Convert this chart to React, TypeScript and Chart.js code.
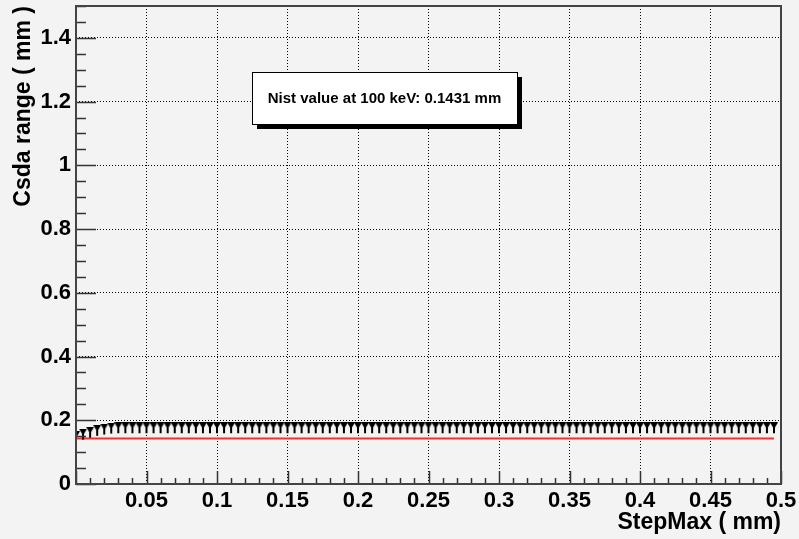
import React, { useEffect, useRef } from "react";
import { Chart, registerables } from "chart.js";

Chart.register(...registerables);

// StepMax values (mm) and the CSDA range obtained for each one (mm)
const STEP_MAX: number[] = [
  0.0, 0.005, 0.01, 0.015, 0.02, 0.025, 0.03, 0.035, 0.04, 0.045,
  0.05, 0.055, 0.06, 0.065, 0.07, 0.075, 0.08, 0.085, 0.09, 0.095,
  0.1, 0.105, 0.11, 0.115, 0.12, 0.125, 0.13, 0.135, 0.14, 0.145,
  0.15, 0.155, 0.16, 0.165, 0.17, 0.175, 0.18, 0.185, 0.19, 0.195,
  0.2, 0.205, 0.21, 0.215, 0.22, 0.225, 0.23, 0.235, 0.24, 0.245,
  0.25, 0.255, 0.26, 0.265, 0.27, 0.275, 0.28, 0.285, 0.29, 0.295,
  0.3, 0.305, 0.31, 0.315, 0.32, 0.325, 0.33, 0.335, 0.34, 0.345,
  0.35, 0.355, 0.36, 0.365, 0.37, 0.375, 0.38, 0.385, 0.39, 0.395,
  0.4, 0.405, 0.41, 0.415, 0.42, 0.425, 0.43, 0.435, 0.44, 0.445,
  0.45, 0.455, 0.46, 0.465, 0.47, 0.475, 0.48, 0.485, 0.49, 0.495,
];

const CSDA_RANGE: number[] = [
  0.147, 0.155, 0.161, 0.167, 0.171, 0.174, 0.175, 0.175, 0.175, 0.175,
  0.175, 0.175, 0.175, 0.175, 0.175, 0.175, 0.175, 0.175, 0.175, 0.175,
  0.175, 0.175, 0.175, 0.175, 0.175, 0.175, 0.175, 0.175, 0.175, 0.175,
  0.175, 0.175, 0.175, 0.175, 0.175, 0.175, 0.175, 0.175, 0.175, 0.175,
  0.175, 0.175, 0.175, 0.175, 0.175, 0.175, 0.175, 0.175, 0.175, 0.175,
  0.175, 0.175, 0.175, 0.175, 0.175, 0.175, 0.175, 0.175, 0.175, 0.175,
  0.175, 0.175, 0.175, 0.175, 0.175, 0.175, 0.175, 0.175, 0.175, 0.175,
  0.175, 0.175, 0.175, 0.175, 0.175, 0.175, 0.175, 0.175, 0.175, 0.175,
  0.175, 0.175, 0.175, 0.175, 0.175, 0.175, 0.175, 0.175, 0.175, 0.175,
  0.175, 0.175, 0.175, 0.175, 0.175, 0.175, 0.175, 0.175, 0.175, 0.175,
];

// Reference value from NIST at 100 keV (mm)
const NIST_VALUE = 0.1431;
const NIST_LABEL = "Nist value at 100 keV: 0.1431 mm";

// Axis ticks
const X_TICKS: number[] = [0, 0.05, 0.1, 0.15, 0.2, 0.25, 0.3, 0.35, 0.4, 0.45, 0.5];
const Y_TICKS: number[] = [0, 0.2, 0.4, 0.6, 0.8, 1.0, 1.2, 1.4];
const X_MINOR_STEP = 0.01;
const Y_MINOR_STEP = 0.05;
const X_MIN = 0, X_MAX = 0.5, Y_MIN = 0, Y_MAX = 1.5;

const FONT = "'Liberation Sans', Arial, Helvetica, sans-serif";
const BG = "#f3f3f3";

const fmt = (v: number) => String(Number(v.toFixed(3)));

// Down-pointing triangle marker with a short stem below it
function makeMarker(): HTMLCanvasElement {
  const c = document.createElement("canvas");
  c.width = 8;
  c.height = 12;
  const g = c.getContext("2d")!;
  g.fillStyle = "#000";
  g.beginPath();
  g.moveTo(0, 0);
  g.lineTo(8, 0);
  g.lineTo(4, 7);
  g.closePath();
  g.fill();
  g.fillRect(3, 4, 2, 7);
  return c;
}

// Canvas background, inner tick marks, frame and the text box
const rootStylePlugin = {
  id: "rootStyle",
  beforeDraw(chart: any) {
    const { ctx, width, height } = chart;
    ctx.save();
    ctx.fillStyle = BG;
    ctx.fillRect(0, 0, width, height);
    ctx.restore();
  },
  afterDraw(chart: any) {
    const { ctx } = chart;
    const { left, right, top, bottom } = chart.chartArea;
    const xs = chart.scales.x;
    const ys = chart.scales.y;
    ctx.save();

    // tick marks pointing into the frame
    ctx.strokeStyle = "#333";
    ctx.lineWidth = 1.5;
    const nx = Math.round((X_MAX - X_MIN) / X_MINOR_STEP);
    for (let i = 0; i <= nx; i++) {
      const v = X_MIN + i * X_MINOR_STEP;
      const px = Math.round(xs.getPixelForValue(v)) + 0.5;
      const len = i % 5 === 0 ? 13 : 6;
      ctx.beginPath();
      ctx.moveTo(px, bottom);
      ctx.lineTo(px, bottom - len);
      ctx.stroke();
    }
    const ny = Math.round((Y_MAX - Y_MIN) / Y_MINOR_STEP);
    for (let i = 0; i <= ny; i++) {
      const v = Y_MIN + i * Y_MINOR_STEP;
      const py = Math.round(ys.getPixelForValue(v)) + 0.5;
      const len = i % 4 === 0 ? 20 : 10;
      ctx.beginPath();
      ctx.moveTo(left, py);
      ctx.lineTo(left + len, py);
      ctx.stroke();
    }

    // frame
    ctx.strokeStyle = "#444";
    ctx.lineWidth = 2;
    ctx.strokeRect(left, top, right - left, bottom - top);

    // text box with drop shadow
    const bx0 = Math.round(xs.getPixelForValue(0.125));
    const bx1 = Math.round(xs.getPixelForValue(0.3125));
    const by0 = Math.round(ys.getPixelForValue(1.2925));
    const by1 = Math.round(ys.getPixelForValue(1.13));
    const bw = bx1 - bx0;
    const bh = by1 - by0;
    ctx.fillStyle = "#000";
    ctx.fillRect(bx0 + 5, by0 + 5, bw, bh);
    ctx.fillStyle = "#fff";
    ctx.fillRect(bx0, by0, bw, bh);
    ctx.strokeStyle = "#000";
    ctx.lineWidth = 1;
    ctx.strokeRect(bx0 + 0.5, by0 + 0.5, bw, bh);
    ctx.fillStyle = "#000";
    ctx.font = `bold 15px ${FONT}`;
    ctx.textAlign = "center";
    ctx.textBaseline = "middle";
    ctx.fillText(NIST_LABEL, bx0 + bw / 2, by0 + bh / 2 + 1);

    ctx.restore();
  },
};

export default function App() {
  const canvasRef = useRef<HTMLCanvasElement | null>(null);

  useEffect(() => {
    const canvas = canvasRef.current;
    if (!canvas) return;

    const points = STEP_MAX.map((x, i) => ({ x, y: CSDA_RANGE[i] }));
    const nistLine = [
      { x: STEP_MAX[0], y: NIST_VALUE },
      { x: STEP_MAX[STEP_MAX.length - 1], y: NIST_VALUE },
    ];
    const marker = makeMarker();

    const chart = new Chart(canvas, {
      type: "scatter",
      data: {
        datasets: [
          {
            type: "line",
            label: "NIST",
            data: nistLine,
            borderColor: "#ff2a2a",
            borderWidth: 2,
            pointRadius: 0,
            showLine: true,
            order: 2,
          } as any,
          {
            label: "Csda range",
            data: points,
            showLine: false,
            pointStyle: marker,
            pointRadius: 5,
            backgroundColor: "#000",
            borderColor: "#000",
            order: 1,
          } as any,
        ],
      },
      options: {
        responsive: false,
        animation: false,
        events: [],
        layout: { padding: { top: 4, right: 18, left: 0, bottom: 0 } },
        plugins: {
          legend: { display: false },
          tooltip: { enabled: false },
        },
        scales: {
          x: {
            type: "linear",
            min: X_MIN,
            max: X_MAX,
            afterBuildTicks: (scale: any) => {
              scale.ticks = X_TICKS.map((value) => ({ value }));
            },
            afterFit: (scale: any) => {
              scale.height = 55;
              scale.paddingLeft = 0;
              scale.paddingRight = 0;
            },
            grid: { color: "#000", lineWidth: 1, drawTicks: false },
            border: { display: false, dash: [1, 2] },
            ticks: {
              padding: 4,
              color: "#000",
              maxRotation: 0,
              autoSkip: false,
              font: { family: FONT, size: 22, weight: "bold" },
              callback: (v: any) => (Number(v) === 0 ? "" : fmt(Number(v))),
            },
            title: {
              display: true,
              text: "StepMax ( mm)",
              align: "end",
              color: "#000",
              font: { family: FONT, size: 23, weight: "bold" },
              padding: { top: 0, bottom: 3 },
            },
          },
          y: {
            type: "linear",
            min: Y_MIN,
            max: Y_MAX,
            afterBuildTicks: (scale: any) => {
              scale.ticks = Y_TICKS.map((value) => ({ value }));
            },
            afterFit: (scale: any) => {
              scale.width = 76;
              scale.paddingTop = 0;
              scale.paddingBottom = 0;
            },
            grid: { color: "#000", lineWidth: 1, drawTicks: false },
            border: { display: false, dash: [1, 2] },
            ticks: {
              padding: 5,
              color: "#000",
              autoSkip: false,
              font: { family: FONT, size: 22, weight: "bold" },
              callback: (v: any) => fmt(Number(v)),
            },
            title: {
              display: true,
              text: "Csda range ( mm )",
              align: "end",
              color: "#000",
              font: { family: FONT, size: 23, weight: "bold" },
              padding: { top: 10, bottom: 0 },
            },
          },
        },
      },
      plugins: [rootStylePlugin],
    });

    return () => chart.destroy();
  }, []);

  return (
    <div style={{ position: "absolute", left: 0, top: 0, width: 799, height: 539, background: BG }}>
      <canvas ref={canvasRef} width={799} height={539} style={{ display: "block" }} />
    </div>
  );
}
